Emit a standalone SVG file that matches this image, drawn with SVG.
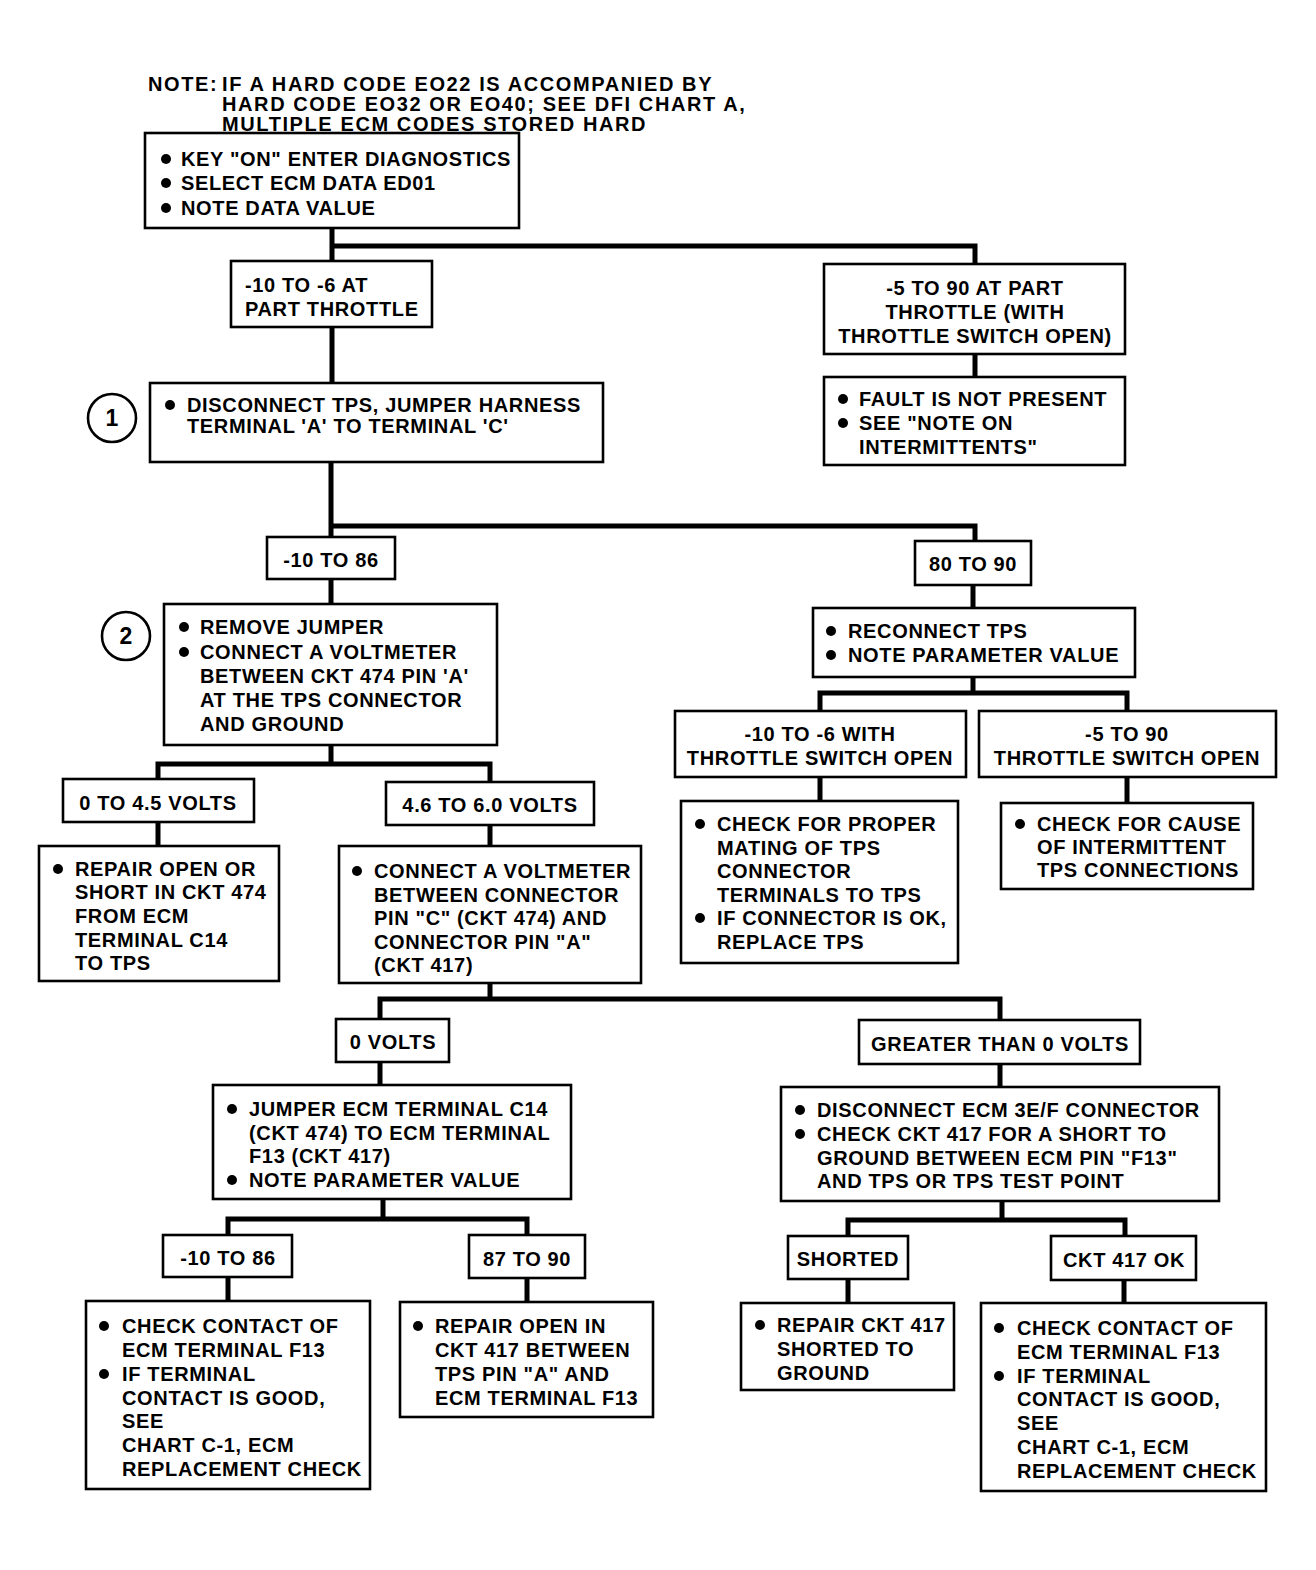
<svg xmlns="http://www.w3.org/2000/svg" width="1316" height="1570" viewBox="0 0 1316 1570">
<style>
.bg{fill:#fff}
.b{fill:#fff;stroke:#000;stroke-width:2.6}
.c{fill:none;stroke:#000;stroke-width:5;stroke-linecap:square}
text{font-family:"Liberation Sans",Arial,sans-serif;font-weight:bold;font-size:20px;letter-spacing:0.65px;fill:#000}
.m{text-anchor:middle}
.n{font-size:20px;letter-spacing:1.6px}
.d{fill:#000}
.cn{fill:#fff;stroke:#000;stroke-width:2.6}
.cnum{font-size:23px;letter-spacing:0;text-anchor:middle}
</style>
<rect class="bg" width="1316" height="1570"/>
<g id="note">
<text class="n" x="148" y="91">NOTE:</text>
<text class="n" x="222" y="91">IF A HARD CODE EO22 IS ACCOMPANIED BY</text>
<text class="n" x="222" y="111">HARD CODE EO32 OR EO40; SEE DFI CHART A,</text>
<text class="n" x="222" y="131">MULTIPLE ECM CODES STORED HARD</text>
</g>
<g id="connectors">
<path class="c" d="M332 228V261M332 246H975V264M332 327V383M975 354V377"/>
<path class="c" d="M331 462V537M331 526H975V541M331 579V604M973 585V608"/>
<path class="c" d="M973 677V693M820 711V693H1127V711M820 777V801M1127 777V803"/>
<path class="c" d="M331 745V764M158 779V764H490V782M158 822V846M490 825V846"/>
<path class="c" d="M490 983V999M380 1019V999H1000V1020M380 1062V1085M1000 1064V1087"/>
<path class="c" d="M383 1199V1219M228 1235V1219H527V1235M1002 1201V1220M848 1236V1220H1125V1236"/>
<path class="c" d="M228 1277V1301M527 1278V1302M848 1279V1303M1124 1280V1303"/>
</g>
<g id="n1">
<rect class="b" x="145" y="133" width="374" height="95"/>
<circle class="d" cx="166" cy="159" r="5"/><circle class="d" cx="166" cy="183" r="5"/><circle class="d" cx="166" cy="208" r="5"/>
<text x="181" y="166">KEY "ON" ENTER DIAGNOSTICS</text>
<text x="181" y="190">SELECT ECM DATA ED01</text>
<text x="181" y="215">NOTE DATA VALUE</text>
</g>
<g id="n2">
<rect class="b" x="231" y="261" width="201" height="66"/>
<text x="245" y="292">-10 TO -6 AT</text>
<text x="245" y="316">PART THROTTLE</text>
</g>
<g id="n3">
<rect class="b" x="824" y="264" width="301" height="90"/>
<text class="m" x="975" y="295">-5 TO 90 AT PART</text>
<text class="m" x="975" y="319">THROTTLE (WITH</text>
<text class="m" x="975" y="343">THROTTLE SWITCH OPEN)</text>
</g>
<g id="n4">
<rect class="b" x="824" y="377" width="301" height="88"/>
<circle class="d" cx="843" cy="399" r="5"/><circle class="d" cx="843" cy="423" r="5"/>
<text x="859" y="406">FAULT IS NOT PRESENT</text>
<text x="859" y="430">SEE "NOTE ON</text>
<text x="859" y="454">INTERMITTENTS"</text>
</g>
<g id="n5">
<rect class="b" x="150" y="383" width="453" height="79"/>
<circle class="d" cx="170" cy="405" r="5"/>
<text x="187" y="412">DISCONNECT TPS, JUMPER HARNESS</text>
<text x="187" y="433">TERMINAL 'A' TO TERMINAL 'C'</text>
</g>
<g id="c1">
<circle class="cn" cx="112" cy="418" r="24"/>
<text class="cnum" x="112" y="426">1</text>
</g>
<g id="n6">
<rect class="b" x="267" y="537" width="128" height="42"/>
<text class="m" x="331" y="567">-10 TO 86</text>
</g>
<g id="n7">
<rect class="b" x="915" y="541" width="116" height="44"/>
<text class="m" x="973" y="571">80 TO 90</text>
</g>
<g id="n8">
<rect class="b" x="164" y="604" width="333" height="141"/>
<circle class="d" cx="184" cy="627" r="5"/><circle class="d" cx="184" cy="652" r="5"/>
<text x="200" y="634">REMOVE JUMPER</text>
<text x="200" y="659">CONNECT A VOLTMETER</text>
<text x="200" y="683">BETWEEN CKT 474 PIN 'A'</text>
<text x="200" y="707">AT THE TPS CONNECTOR</text>
<text x="200" y="731">AND GROUND</text>
</g>
<g id="c2">
<circle class="cn" cx="126" cy="636" r="24"/>
<text class="cnum" x="126" y="644">2</text>
</g>
<g id="n9">
<rect class="b" x="813" y="608" width="322" height="69"/>
<circle class="d" cx="831" cy="631" r="5"/><circle class="d" cx="831" cy="655" r="5"/>
<text x="848" y="638">RECONNECT TPS</text>
<text x="848" y="662">NOTE PARAMETER VALUE</text>
</g>
<g id="n10">
<rect class="b" x="675" y="711" width="291" height="66"/>
<text class="m" x="820" y="741">-10 TO -6 WITH</text>
<text class="m" x="820" y="765">THROTTLE SWITCH OPEN</text>
</g>
<g id="n11">
<rect class="b" x="979" y="711" width="297" height="66"/>
<text class="m" x="1127" y="741">-5 TO 90</text>
<text class="m" x="1127" y="765">THROTTLE SWITCH OPEN</text>
</g>
<g id="n12">
<rect class="b" x="681" y="801" width="277" height="162"/>
<circle class="d" cx="700" cy="824" r="5"/><circle class="d" cx="700" cy="918" r="5"/>
<text x="717" y="831">CHECK FOR PROPER</text>
<text x="717" y="855">MATING OF TPS</text>
<text x="717" y="878">CONNECTOR</text>
<text x="717" y="902">TERMINALS TO TPS</text>
<text x="717" y="925">IF CONNECTOR IS OK,</text>
<text x="717" y="949">REPLACE TPS</text>
</g>
<g id="n13">
<rect class="b" x="1001" y="803" width="252" height="86"/>
<circle class="d" cx="1020" cy="824" r="5"/>
<text x="1037" y="831">CHECK FOR CAUSE</text>
<text x="1037" y="854">OF INTERMITTENT</text>
<text x="1037" y="877">TPS CONNECTIONS</text>
</g>
<g id="n14">
<rect class="b" x="63" y="779" width="191" height="43"/>
<text class="m" x="158" y="810">0 TO 4.5 VOLTS</text>
</g>
<g id="n15">
<rect class="b" x="386" y="782" width="208" height="43"/>
<text class="m" x="490" y="812">4.6 TO 6.0 VOLTS</text>
</g>
<g id="n16">
<rect class="b" x="39" y="846" width="240" height="135"/>
<circle class="d" cx="58" cy="869" r="5"/>
<text x="75" y="876">REPAIR OPEN OR</text>
<text x="75" y="899">SHORT IN CKT 474</text>
<text x="75" y="923">FROM ECM</text>
<text x="75" y="947">TERMINAL C14</text>
<text x="75" y="970">TO TPS</text>
</g>
<g id="n17">
<rect class="b" x="339" y="846" width="302" height="137"/>
<circle class="d" cx="357" cy="871" r="5"/>
<text x="374" y="878">CONNECT A VOLTMETER</text>
<text x="374" y="902">BETWEEN CONNECTOR</text>
<text x="374" y="925">PIN "C" (CKT 474) AND</text>
<text x="374" y="949">CONNECTOR PIN "A"</text>
<text x="374" y="972">(CKT 417)</text>
</g>
<g id="n18">
<rect class="b" x="336" y="1019" width="113" height="43"/>
<text class="m" x="393" y="1049">0 VOLTS</text>
</g>
<g id="n19">
<rect class="b" x="859" y="1020" width="281" height="44"/>
<text class="m" x="1000" y="1051">GREATER THAN 0 VOLTS</text>
</g>
<g id="n20">
<rect class="b" x="213" y="1085" width="358" height="114"/>
<circle class="d" cx="232" cy="1109" r="5"/><circle class="d" cx="232" cy="1180" r="5"/>
<text x="249" y="1116">JUMPER ECM TERMINAL C14</text>
<text x="249" y="1140">(CKT 474) TO ECM TERMINAL</text>
<text x="249" y="1163">F13 (CKT 417)</text>
<text x="249" y="1187">NOTE PARAMETER VALUE</text>
</g>
<g id="n21">
<rect class="b" x="781" y="1087" width="438" height="114"/>
<circle class="d" cx="800" cy="1110" r="5"/><circle class="d" cx="800" cy="1134" r="5"/>
<text x="817" y="1117">DISCONNECT ECM 3E/F CONNECTOR</text>
<text x="817" y="1141">CHECK CKT 417 FOR A SHORT TO</text>
<text x="817" y="1165">GROUND BETWEEN ECM PIN "F13"</text>
<text x="817" y="1188">AND TPS OR TPS TEST POINT</text>
</g>
<g id="n22">
<rect class="b" x="163" y="1235" width="129" height="42"/>
<text class="m" x="228" y="1265">-10 TO 86</text>
</g>
<g id="n23">
<rect class="b" x="469" y="1235" width="116" height="43"/>
<text class="m" x="527" y="1266">87 TO 90</text>
</g>
<g id="n24">
<rect class="b" x="788" y="1236" width="120" height="43"/>
<text class="m" x="848" y="1266">SHORTED</text>
</g>
<g id="n25">
<rect class="b" x="1051" y="1236" width="145" height="44"/>
<text class="m" x="1124" y="1267">CKT 417 OK</text>
</g>
<g id="n26">
<rect class="b" x="86" y="1301" width="284" height="188"/>
<circle class="d" cx="104" cy="1326" r="5"/><circle class="d" cx="104" cy="1374" r="5"/>
<text x="122" y="1333">CHECK CONTACT OF</text>
<text x="122" y="1357">ECM TERMINAL F13</text>
<text x="122" y="1381">IF TERMINAL</text>
<text x="122" y="1405">CONTACT IS GOOD,</text>
<text x="122" y="1428">SEE</text>
<text x="122" y="1452">CHART C-1, ECM</text>
<text x="122" y="1476">REPLACEMENT CHECK</text>
</g>
<g id="n27">
<rect class="b" x="400" y="1302" width="253" height="115"/>
<circle class="d" cx="418" cy="1326" r="5"/>
<text x="435" y="1333">REPAIR OPEN IN</text>
<text x="435" y="1357">CKT 417 BETWEEN</text>
<text x="435" y="1381">TPS PIN "A" AND</text>
<text x="435" y="1405">ECM TERMINAL F13</text>
</g>
<g id="n28">
<rect class="b" x="741" y="1303" width="213" height="87"/>
<circle class="d" cx="760" cy="1325" r="5"/>
<text x="777" y="1332">REPAIR CKT 417</text>
<text x="777" y="1356">SHORTED TO</text>
<text x="777" y="1380">GROUND</text>
</g>
<g id="n29">
<rect class="b" x="981" y="1303" width="285" height="188"/>
<circle class="d" cx="999" cy="1328" r="5"/><circle class="d" cx="999" cy="1376" r="5"/>
<text x="1017" y="1335">CHECK CONTACT OF</text>
<text x="1017" y="1359">ECM TERMINAL F13</text>
<text x="1017" y="1383">IF TERMINAL</text>
<text x="1017" y="1406">CONTACT IS GOOD,</text>
<text x="1017" y="1430">SEE</text>
<text x="1017" y="1454">CHART C-1, ECM</text>
<text x="1017" y="1478">REPLACEMENT CHECK</text>
</g>
</svg>
